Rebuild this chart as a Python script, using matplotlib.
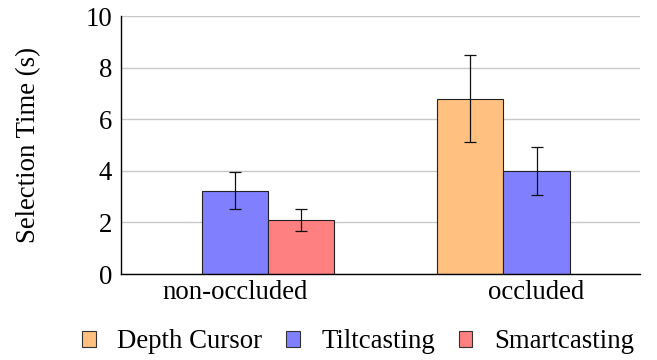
import matplotlib.pyplot as plt
from matplotlib.patches import Patch
import numpy as np

plt.rcParams['font.family'] = ['Liberation Serif', 'DejaVu Serif']

grupos = ["non-occluded", "occluded"]
tecnicas = ["Depth Cursor", "Tiltcasting", "Smartcasting"]
# media e erro (s); nan = sem barra
media = {
    "Depth Cursor": [np.nan, 6.80],
    "Tiltcasting": [3.23, 3.99],
    "Smartcasting": [2.09, np.nan],
}
erro = {
    "Depth Cursor": [np.nan, 1.70],
    "Tiltcasting": [0.72, 0.93],
    "Smartcasting": [0.42, np.nan],
}
cores = {
    "Depth Cursor": "#FFC080",
    "Tiltcasting": "#8080FF",
    "Smartcasting": "#FF8080",
}
yticks = [0, 2, 4, 6, 8, 10]

fig = plt.figure(figsize=(6.57, 3.6), dpi=100)
ax = fig.add_axes([121/657, 86/360, 519/657, 258/360])

x = np.arange(len(grupos))
largura = 0.219
fs = 19.3

for i, t in enumerate(tecnicas):
    pos = x + (i - 1) * largura
    ax.bar(pos, media[t], width=largura, color=cores[t], edgecolor="#222222",
           linewidth=0.8, zorder=2)
    ax.errorbar(pos, media[t], yerr=erro[t], fmt='none', ecolor="#111111",
                elinewidth=0.9, capsize=4, capthick=0.9, zorder=3)

ax.set_xlim(-0.377, 1.343)
ax.set_ylim(0, 10)
ax.set_yticks(yticks)
ax.set_xticks(x)
ax.set_xticklabels(grupos, fontsize=fs)
ax.tick_params(axis='y', length=0, pad=6.5, labelsize=fs)
ax.tick_params(axis='x', length=0, pad=4)
ax.grid(True, axis='y', color="#c8c8c8", linewidth=1.0, zorder=0)
ax.set_axisbelow(True)
for s in ["top", "right"]:
    ax.spines[s].set_visible(False)
for s in ["left", "bottom"]:
    ax.spines[s].set_linewidth(1.0)
    ax.spines[s].set_zorder(4)

ax.set_ylabel("Selection Time (s)", fontsize=fs)
ax.yaxis.set_label_coords(-0.154, 0.5)

handles = [Patch(facecolor=cores[t], edgecolor="#333333", linewidth=0.8) for t in tecnicas]
fig.legend(handles, tecnicas, loc='center', bbox_to_anchor=(358/657, 1 - 342/360),
           ncol=3, frameon=False, fontsize=fs, handlelength=0.5, handleheight=0.5,
           handletextpad=0.8, columnspacing=0.9, borderpad=0, borderaxespad=0)

fig.savefig("out.png", dpi=100)
